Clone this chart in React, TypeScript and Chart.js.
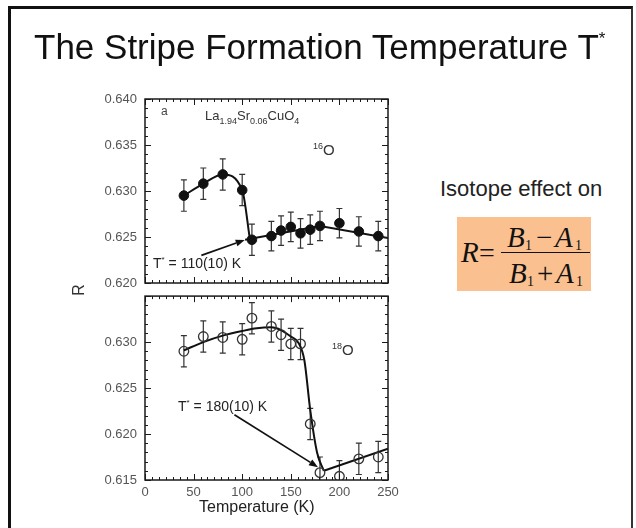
import React, { useEffect, useRef } from "react";
import { Chart, registerables } from "chart.js";

Chart.register(...registerables);

// ---------------- data ----------------
const temps16O = [40, 60, 80, 100, 110, 130, 140, 150, 160, 170, 180, 200, 220, 240];
const ratio16O = [0.6295, 0.6308, 0.6318, 0.6301, 0.6247, 0.6251, 0.6257, 0.6261, 0.6254, 0.6258, 0.6262, 0.6265, 0.6256, 0.6251];
const err16O = [0.0017, 0.0017, 0.0017, 0.0017, 0.0017, 0.0016, 0.0016, 0.0016, 0.0016, 0.0016, 0.0016, 0.0016, 0.0016, 0.0016];

const temps18O = [40, 60, 80, 100, 110, 130, 140, 150, 160, 170, 180, 200, 220, 240];
const ratio18O = [0.6290, 0.6306, 0.6305, 0.6303, 0.6326, 0.6317, 0.6308, 0.6298, 0.6298, 0.6211, 0.6158, 0.6154, 0.6173, 0.6175];
const err18O = [0.0017, 0.0017, 0.0017, 0.0017, 0.0017, 0.0017, 0.0017, 0.0017, 0.0017, 0.0017, 0.0017, 0.0017, 0.0017, 0.0017];

// fitted guide lines
const fit16LowT = [40, 60, 80, 100, 108];
const fit16LowR = [0.6295, 0.6308, 0.6318, 0.6301, 0.6247];
const fit16HighT = [103, 180, 250];
const fit16HighR = [0.6247, 0.6262, 0.6249];

const fit18CurveT = [40, 60, 80, 100, 115, 130, 140, 150, 158, 164, 170, 177, 184];
const fit18CurveR = [0.6291, 0.6300, 0.6307, 0.6312, 0.6315, 0.6316, 0.6313, 0.6306, 0.6299, 0.6280, 0.6226, 0.6180, 0.6160];
const fit18LineT = [184, 250];
const fit18LineR = [0.6160, 0.6184];

// arrows (data space): [T, R]
const arrow16From = [58, 0.6230];
const arrow16To = [102.6, 0.62468];
const arrow18From = [92, 0.6221];
const arrow18To = [178, 0.6164];

// axes
const xTickValues = [0, 50, 100, 150, 200, 250];
const yTicksTop = [0.620, 0.625, 0.630, 0.635, 0.640];
const yTicksBottom = [0.615, 0.620, 0.625, 0.630];

// ---------------- chart helpers ----------------
const FONT = "'Liberation Sans', Arial, sans-serif";
const SERIF = "'Liberation Serif', 'Times New Roman', serif";

type Panel = {
  T: number[]; R: number[]; E: number[];
  filled: boolean;
  fits: { T: number[]; R: number[]; smooth: boolean }[];
  yMin: number; yMax: number; yTicks: number[];
  showX: boolean;
  arrowFrom: number[]; arrowTo: number[];
  padTop: number; padBottom: number; xHeight: number;
};

function line(ctx: CanvasRenderingContext2D, x1: number, y1: number, x2: number, y2: number) {
  ctx.moveTo(x1, y1);
  ctx.lineTo(x2, y2);
}

function makeDeco(p: Panel) {
  return {
    id: "panelDeco",
    beforeDatasetsDraw(chart: any) {
      const { ctx, chartArea: a, scales } = chart;
      const x = scales.x, y = scales.y;
      ctx.save();
      ctx.beginPath();
      ctx.rect(a.left, a.top, a.right - a.left, a.bottom - a.top);
      ctx.clip();
      ctx.strokeStyle = "#333";
      ctx.lineWidth = 1.2;
      p.T.forEach((t, i) => {
        const px = x.getPixelForValue(t);
        const y1 = y.getPixelForValue(p.R[i] - p.E[i]);
        const y2 = y.getPixelForValue(p.R[i] + p.E[i]);
        ctx.beginPath();
        line(ctx, px, y1, px, y2);
        line(ctx, px - 3, y1, px + 3, y1);
        line(ctx, px - 3, y2, px + 3, y2);
        ctx.stroke();
      });
      ctx.restore();
    },
    afterDatasetsDraw(chart: any) {
      const { ctx, chartArea: a, scales } = chart;
      const x = scales.x, y = scales.y;
      ctx.save();
      // frame
      ctx.strokeStyle = "#1a1a1a";
      ctx.lineWidth = 1.5;
      ctx.strokeRect(a.left, a.top, a.right - a.left, a.bottom - a.top);
      // inward ticks
      ctx.lineWidth = 1;
      ctx.beginPath();
      const yStep = 0.001;
      const ny = Math.round((p.yMax - p.yMin) / yStep);
      for (let i = 0; i <= ny; i++) {
        const py = Math.round(y.getPixelForValue(p.yMin + i * yStep)) + 0.5;
        const len = i % 5 === 0 ? 6 : 3;
        line(ctx, a.left, py, a.left + len, py);
        line(ctx, a.right, py, a.right - len, py);
      }
      const sub = 7;
      const nx = (xTickValues.length - 1) * sub;
      const xSpan = xTickValues[xTickValues.length - 1] - xTickValues[0];
      for (let i = 0; i <= nx; i++) {
        const px = Math.round(x.getPixelForValue(xTickValues[0] + (i * xSpan) / nx)) + 0.5;
        const len = i % sub === 0 ? 6 : 3;
        line(ctx, px, a.bottom, px, a.bottom - len);
        line(ctx, px, a.top, px, a.top + len);
      }
      ctx.stroke();
      // arrow
      const x0 = x.getPixelForValue(p.arrowFrom[0]);
      const y0 = y.getPixelForValue(p.arrowFrom[1]);
      const x1 = x.getPixelForValue(p.arrowTo[0]);
      const y1 = y.getPixelForValue(p.arrowTo[1]);
      const ang = Math.atan2(y1 - y0, x1 - x0);
      const hl = 9, hw = 3.5;
      const bx = x1 - hl * Math.cos(ang), by = y1 - hl * Math.sin(ang);
      ctx.strokeStyle = "#111";
      ctx.fillStyle = "#111";
      ctx.lineWidth = 1.7;
      ctx.beginPath();
      line(ctx, x0, y0, bx, by);
      ctx.stroke();
      ctx.beginPath();
      ctx.moveTo(x1, y1);
      ctx.lineTo(bx - hw * Math.sin(ang), by + hw * Math.cos(ang));
      ctx.lineTo(bx + hw * Math.sin(ang), by - hw * Math.cos(ang));
      ctx.closePath();
      ctx.fill();
      ctx.restore();
    },
  };
}

function buildPanel(canvas: HTMLCanvasElement, p: Panel) {
  const datasets: any[] = [
    {
      data: p.T.map((t, i) => ({ x: t, y: p.R[i] })),
      showLine: false,
      pointRadius: 4.8,
      pointStyle: "circle",
      pointBackgroundColor: p.filled ? "#111" : "rgba(0,0,0,0)",
      pointBorderColor: p.filled ? "#111" : "#333",
      pointBorderWidth: p.filled ? 1 : 1.3,
    },
    ...p.fits.map((f) => ({
      data: f.T.map((t, i) => ({ x: t, y: f.R[i] })),
      showLine: true,
      pointRadius: 0,
      borderColor: "#111",
      borderWidth: 2,
      cubicInterpolationMode: f.smooth ? "monotone" : "default",
      tension: 0,
    })),
  ];
  const tickFont = { family: FONT, size: 13 };
  return new Chart(canvas, {
    type: "scatter",
    data: { datasets },
    options: {
      animation: false,
      responsive: false,
      maintainAspectRatio: false,
      events: [],
      layout: { padding: { left: 0, right: 12, top: p.padTop, bottom: p.padBottom } },
      plugins: { legend: { display: false }, tooltip: { enabled: false }, title: { display: false } },
      scales: {
        x: {
          type: "linear",
          min: 0,
          max: 250,
          afterBuildTicks: (s: any) => {
            s.ticks = xTickValues.map((v) => ({ value: v }));
          },
          afterFit: (s: any) => {
            s.height = p.xHeight;
            s.paddingLeft = 0;
            s.paddingRight = 0;
          },
          grid: { display: false, drawTicks: false },
          border: { display: false },
          ticks: { display: p.showX, color: "#555", font: tickFont, padding: 5, maxRotation: 0 },
        },
        y: {
          type: "linear",
          min: p.yMin,
          max: p.yMax,
          afterBuildTicks: (s: any) => {
            s.ticks = p.yTicks.map((v) => ({ value: v }));
          },
          afterFit: (s: any) => {
            s.width = 145;
            s.paddingTop = 0;
            s.paddingBottom = 0;
          },
          grid: { display: false, drawTicks: false },
          border: { display: false },
          ticks: {
            color: "#555",
            font: tickFont,
            padding: 8,
            callback: (v: any) => Number(v).toFixed(3),
          },
        },
      },
    } as any,
    plugins: [makeDeco(p)],
  });
}

const topPanel: Panel = {
  T: temps16O, R: ratio16O, E: err16O, filled: true,
  fits: [
    { T: fit16LowT, R: fit16LowR, smooth: true },
    { T: fit16HighT, R: fit16HighR, smooth: false },
  ],
  yMin: yTicksTop[0], yMax: yTicksTop[yTicksTop.length - 1], yTicks: yTicksTop,
  showX: false, arrowFrom: arrow16From, arrowTo: arrow16To,
  padTop: 99, padBottom: 7, xHeight: 0,
};

const bottomPanel: Panel = {
  T: temps18O, R: ratio18O, E: err18O, filled: false,
  fits: [
    { T: fit18CurveT, R: fit18CurveR, smooth: true },
    { T: fit18LineT, R: fit18LineR, smooth: false },
  ],
  yMin: yTicksBottom[0], yMax: 0.635, yTicks: yTicksBottom,
  showX: true, arrowFrom: arrow18From, arrowTo: arrow18To,
  padTop: 5, padBottom: 23, xHeight: 25,
};

function PanelCanvas({ top, height, panel }: { top: number; height: number; panel: Panel }) {
  const ref = useRef<HTMLCanvasElement>(null);
  useEffect(() => {
    const chart = buildPanel(ref.current as HTMLCanvasElement, panel);
    return () => chart.destroy();
  }, []);
  return (
    <canvas
      ref={ref}
      width={400}
      height={height}
      style={{ position: "absolute", left: 0, top, width: 400, height }}
    />
  );
}

// text placed by baseline
function Txt({ x, base, size, family = FONT, color = "#222", italic = false, children, style = {} }: any) {
  const asc = family === SERIF ? 0.8375 : 0.846;
  return (
    <div
      style={{
        position: "absolute",
        left: x,
        top: base - asc * size,
        fontFamily: family,
        fontSize: size,
        lineHeight: `${size}px`,
        fontStyle: italic ? "italic" : "normal",
        color,
        whiteSpace: "nowrap",
        ...style,
      }}
    >
      {children}
    </div>
  );
}

const Sub = ({ size, dy, children }: any) => (
  <span style={{ fontSize: size, position: "relative", top: dy }}>{children}</span>
);

export default function App() {
  return (
    <div
      style={{
        position: "fixed",
        left: 0,
        top: 0,
        width: 636,
        height: 528,
        background: "#fff",
        overflow: "hidden",
      }}
    >
      {/* slide frame */}
      <div
        style={{
          position: "absolute",
          left: 8,
          top: 6,
          width: 636 - 8 - 3,
          height: 600,
          borderLeft: "3px solid #111",
          borderTop: "3px solid #111",
          borderRight: "2px solid #333",
          boxSizing: "border-box",
        }}
      />
      <PanelCanvas top={0} height={290} panel={topPanel} />
      <PanelCanvas top={290} height={238} panel={bottomPanel} />

      {/* title */}
      <Txt x={34} base={59} size={35} color="#111">
        The Stripe Formation Temperature T<Sub size={17} dy={-15}>*</Sub>
      </Txt>

      {/* right-hand side */}
      <Txt x={440} base={197} size={22} color="#222">Isotope effect on</Txt>
      <div style={{ position: "absolute", left: 457, top: 217, width: 134, height: 74, background: "#fac090" }} />
      <Txt x={461} base={262} size={29} family={SERIF} italic color="#111">R</Txt>
      <Txt x={479} base={262} size={28} family={SERIF} color="#111">=</Txt>
      <div style={{ position: "absolute", left: 501, top: 252, width: 89, height: 1.4, background: "#111" }} />
      <Txt x={507} base={247} size={29} family={SERIF} italic color="#111">B</Txt>
      <Txt x={525} base={251} size={14} family={SERIF} color="#111">1</Txt>
      <Txt x={536} base={247} size={29} family={SERIF} color="#111">−</Txt>
      <Txt x={555} base={247} size={29} family={SERIF} italic color="#111">A</Txt>
      <Txt x={575} base={251} size={14} family={SERIF} color="#111">1</Txt>
      <Txt x={509} base={283} size={29} family={SERIF} italic color="#111">B</Txt>
      <Txt x={527} base={287} size={14} family={SERIF} color="#111">1</Txt>
      <Txt x={537} base={283} size={29} family={SERIF} color="#111">+</Txt>
      <Txt x={556} base={283} size={29} family={SERIF} italic color="#111">A</Txt>
      <Txt x={576} base={287} size={14} family={SERIF} color="#111">1</Txt>

      {/* annotations, top panel */}
      <Txt x={161} base={115} size={12} color="#444">a</Txt>
      <Txt x={205} base={120} size={13} color="#333">
        La<Sub size={9} dy={4}>1.94</Sub>Sr<Sub size={9} dy={4}>0.06</Sub>CuO<Sub size={9} dy={4}>4</Sub>
      </Txt>
      <Txt x={313} base={155} size={15} color="#333">
        <Sub size={9} dy={-6}>16</Sub>O
      </Txt>
      <Txt x={153} base={268} size={14} color="#222">
        T<Sub size={8} dy={-6}>*</Sub> = 110(10) K
      </Txt>

      {/* annotations, bottom panel */}
      <Txt x={332} base={355} size={15} color="#333">
        <Sub size={9} dy={-6}>18</Sub>O
      </Txt>
      <Txt x={178} base={411} size={14} color="#222">
        T<Sub size={8} dy={-6}>*</Sub> = 180(10) K
      </Txt>

      {/* axis titles */}
      <div
        style={{
          position: "absolute",
          left: 79 - 20,
          top: 290 - 10,
          width: 40,
          height: 20,
          lineHeight: "20px",
          textAlign: "center",
          fontFamily: FONT,
          fontSize: 16,
          color: "#333",
          transform: "rotate(-90deg)",
        }}
      >
        R
      </div>
      <Txt x={199} base={513} size={16} color="#222">Temperature (K)</Txt>
    </div>
  );
}
